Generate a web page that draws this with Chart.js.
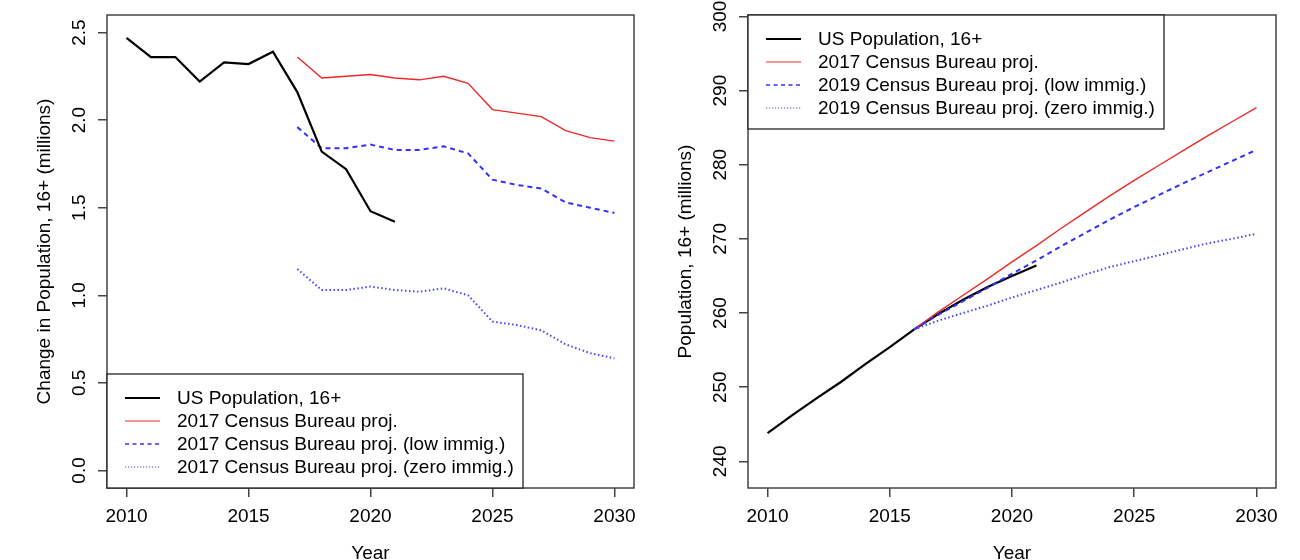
<!DOCTYPE html>
<html>
<head>
<meta charset="utf-8">
<script src="https://cdn.jsdelivr.net/npm/chart.js@4.4.1/dist/chart.umd.min.js"></script>
<style>
  html, body { margin: 0; padding: 0; background: #fff; }
  #wrap { position: relative; width: 1300px; height: 560px; }
  canvas { position: absolute; top: 0; }
  #left { left: 0; }
  #right { left: 650px; }
</style>
</head>
<body>
<div id="wrap">
  <canvas id="left" width="650" height="560"></canvas>
  <canvas id="right" width="650" height="560"></canvas>
</div>
<script>
// ---- data: left panel, yearly change (millions) ----
const histYears = [2010, 2011, 2012, 2013, 2014, 2015, 2016, 2017, 2018, 2019, 2020, 2021];
const histChange = [2.47, 2.36, 2.36, 2.22, 2.33, 2.32, 2.39, 2.16, 1.82, 1.72, 1.48, 1.42];
const projYears = [2017, 2018, 2019, 2020, 2021, 2022, 2023, 2024, 2025, 2026, 2027, 2028, 2029, 2030];
const proj2017Change = [2.36, 2.24, 2.25, 2.26, 2.24, 2.23, 2.25, 2.21, 2.06, 2.04, 2.02, 1.94, 1.90, 1.88];
const projLowChange  = [1.96, 1.84, 1.84, 1.86, 1.83, 1.83, 1.85, 1.81, 1.66, 1.63, 1.61, 1.53, 1.50, 1.47];
const projZeroChange = [1.15, 1.03, 1.03, 1.05, 1.03, 1.02, 1.04, 1.00, 0.85, 0.83, 0.80, 0.72, 0.67, 0.64];

// ---- data: right panel, population level (millions) ----
const histLevel = [243.8, 246.2, 248.5, 250.7, 253.1, 255.4, 257.8, 259.9, 261.8, 263.5, 265.0, 266.4];
const levelYears = [2016, 2017, 2018, 2019, 2020, 2021, 2022, 2023, 2024, 2025, 2026, 2027, 2028, 2029, 2030];
const proj2017Level = [257.8, 260.2, 262.4, 264.6, 266.9, 269.1, 271.4, 273.6, 275.8, 277.9, 279.9, 281.9, 283.9, 285.8, 287.7];
const projLowLevel  = [257.8, 259.8, 261.6, 263.4, 265.3, 267.1, 269.0, 270.8, 272.6, 274.3, 275.9, 277.5, 279.0, 280.5, 282.0];
const projZeroLevel = [257.8, 259.0, 260.0, 261.0, 262.1, 263.1, 264.1, 265.2, 266.2, 267.0, 267.8, 268.6, 269.4, 270.0, 270.7];

// ---- ticks and labels ----
const xTicks = [2010, 2015, 2020, 2025, 2030];
const leftYTicks = [0, 0.5, 1, 1.5, 2, 2.5];
const rightYTicks = [240, 250, 260, 270, 280, 290, 300];
const leftLabels = ['US Population, 16+', '2017 Census Bureau proj.',
  '2017 Census Bureau proj. (low immig.)', '2017 Census Bureau proj. (zero immig.)'];
const rightLabels = ['US Population, 16+', '2017 Census Bureau proj.',
  '2019 Census Bureau proj. (low immig.)', '2019 Census Bureau proj. (zero immig.)'];

const FONT = '"Liberation Sans", Arial, sans-serif';
const AXIS = '#444';

const styles = [
  { color: '#000', width: 2.2, dash: [], legendWidth: 2, legendDash: [] },
  { color: 'rgb(238,40,40)', width: 1.4, dash: [], legendWidth: 1.2, legendDash: [] },
  { color: 'rgb(50,50,255)', width: 2, dash: [5, 4], legendWidth: 1.3, legendDash: [4, 3.5] },
  { color: 'rgb(70,70,255)', width: 2, dash: [1.5, 2.5], legendWidth: 1.2, legendDash: [1.2, 1.8] },
];

function pairs(xs, ys) {
  return xs.map((x, i) => ({ x: x, y: ys[i] }));
}

function makeDataset(label, xs, ys, style, order) {
  return {
    label: label,
    data: pairs(xs, ys),
    borderColor: style.color,
    borderWidth: style.width,
    borderDash: style.dash,
    pointRadius: 0,
    fill: false,
    tension: 0,
    order: order,
    legendStyle: style,
  };
}

// R-like frame, rotated tick labels, titles and boxed legend
const rStylePlugin = {
  id: 'rStyle',
  afterDraw(chart, args, opts) {
    const ctx = chart.ctx, a = chart.chartArea;
    const xs = chart.scales.x, ys = chart.scales.y;
    ctx.save();
    ctx.strokeStyle = AXIS;
    ctx.lineWidth = 1.5;
    ctx.strokeRect(a.left, a.top, a.right - a.left, a.bottom - a.top);

    ctx.fillStyle = '#000';
    ctx.font = '19px ' + FONT;
    ctx.textAlign = 'center';
    ctx.textBaseline = 'alphabetic';
    xs.ticks.forEach(t => ctx.fillText(String(t.value), xs.getPixelForValue(t.value), a.bottom + 34));
    ctx.fillText(opts.xTitle, (a.left + a.right) / 2, a.bottom + 71);

    ys.ticks.forEach(t => {
      ctx.save();
      ctx.translate(a.left - 22, ys.getPixelForValue(t.value));
      ctx.rotate(-Math.PI / 2);
      ctx.fillText(opts.yFormat(t.value), 0, 0);
      ctx.restore();
    });
    ctx.save();
    ctx.translate(a.left - 57, (a.top + a.bottom) / 2);
    ctx.rotate(-Math.PI / 2);
    ctx.fillText(opts.yTitle, 0, 0);
    ctx.restore();

    // legend
    const bw = 416, bh = 114;
    const bx = a.left;
    const by = opts.legendAt === 'bottom' ? a.bottom - bh : a.top;
    ctx.fillStyle = '#fff';
    ctx.fillRect(bx, by, bw, bh);
    ctx.strokeStyle = '#222';
    ctx.lineWidth = 1.3;
    ctx.strokeRect(bx, by, bw, bh);
    ctx.textAlign = 'left';
    ctx.textBaseline = 'middle';
    chart.data.datasets.forEach((ds, i) => {
      const yy = by + 24 + i * 23;
      const st = ds.legendStyle;
      ctx.save();
      ctx.strokeStyle = st.color;
      ctx.lineWidth = st.legendWidth;
      ctx.setLineDash(st.legendDash);
      ctx.beginPath();
      ctx.moveTo(bx + 18, yy);
      ctx.lineTo(bx + 53, yy);
      ctx.stroke();
      ctx.restore();
      ctx.fillStyle = '#000';
      ctx.fillText(ds.label, bx + 70, yy + 1);
    });
    ctx.restore();
  }
};

function makeScales(yMin, yMax, yTicks, yWidth) {
  const grid = { display: true, drawOnChartArea: false, drawTicks: true, tickLength: 9, color: AXIS, tickColor: AXIS, lineWidth: 1.5 };
  return {
    x: {
      type: 'linear', min: 2009.2, max: 2030.8,
      afterBuildTicks: s => { s.ticks = xTicks.map(v => ({ value: v })); },
      afterFit: s => { s.height = 72; },
      ticks: { display: false },
      grid: grid,
      border: { display: false },
    },
    y: {
      type: 'linear', min: yMin, max: yMax,
      afterBuildTicks: s => { s.ticks = yTicks.map(v => ({ value: v })); },
      afterFit: s => { s.width = yWidth; },
      ticks: { display: false },
      grid: grid,
      border: { display: false },
    }
  };
}

new Chart(document.getElementById('left'), {
  type: 'line',
  data: {
    datasets: [
      makeDataset(leftLabels[0], histYears, histChange, styles[0], 0),
      makeDataset(leftLabels[1], projYears, proj2017Change, styles[1], 1),
      makeDataset(leftLabels[2], projYears, projLowChange, styles[2], 2),
      makeDataset(leftLabels[3], projYears, projZeroChange, styles[3], 3),
    ]
  },
  options: {
    responsive: false,
    animation: false,
    layout: { padding: { top: 15, right: 16, left: 0, bottom: 0 } },
    scales: makeScales(-0.1, 2.6, leftYTicks, 107),
    plugins: {
      legend: { display: false },
      tooltip: { enabled: false },
      rStyle: {
        xTitle: 'Year',
        yTitle: 'Change in Population, 16+ (millions)',
        yFormat: v => v.toFixed(1),
        legendAt: 'bottom',
      }
    }
  },
  plugins: [rStylePlugin]
});

new Chart(document.getElementById('right'), {
  type: 'line',
  data: {
    datasets: [
      makeDataset(rightLabels[0], histYears, histLevel, styles[0], 4),
      makeDataset(rightLabels[1], levelYears, proj2017Level, styles[1], 3),
      makeDataset(rightLabels[2], levelYears, projLowLevel, styles[2], 2),
      makeDataset(rightLabels[3], levelYears, projZeroLevel, styles[3], 1),
    ]
  },
  options: {
    responsive: false,
    animation: false,
    layout: { padding: { top: 15, right: 24, left: 0, bottom: 0 } },
    scales: makeScales(236.4, 300.2, rightYTicks, 98),
    plugins: {
      legend: { display: false },
      tooltip: { enabled: false },
      rStyle: {
        xTitle: 'Year',
        yTitle: 'Population, 16+ (millions)',
        yFormat: v => String(v),
        legendAt: 'top',
      }
    }
  },
  plugins: [rStylePlugin]
});
</script>
</body>
</html>
